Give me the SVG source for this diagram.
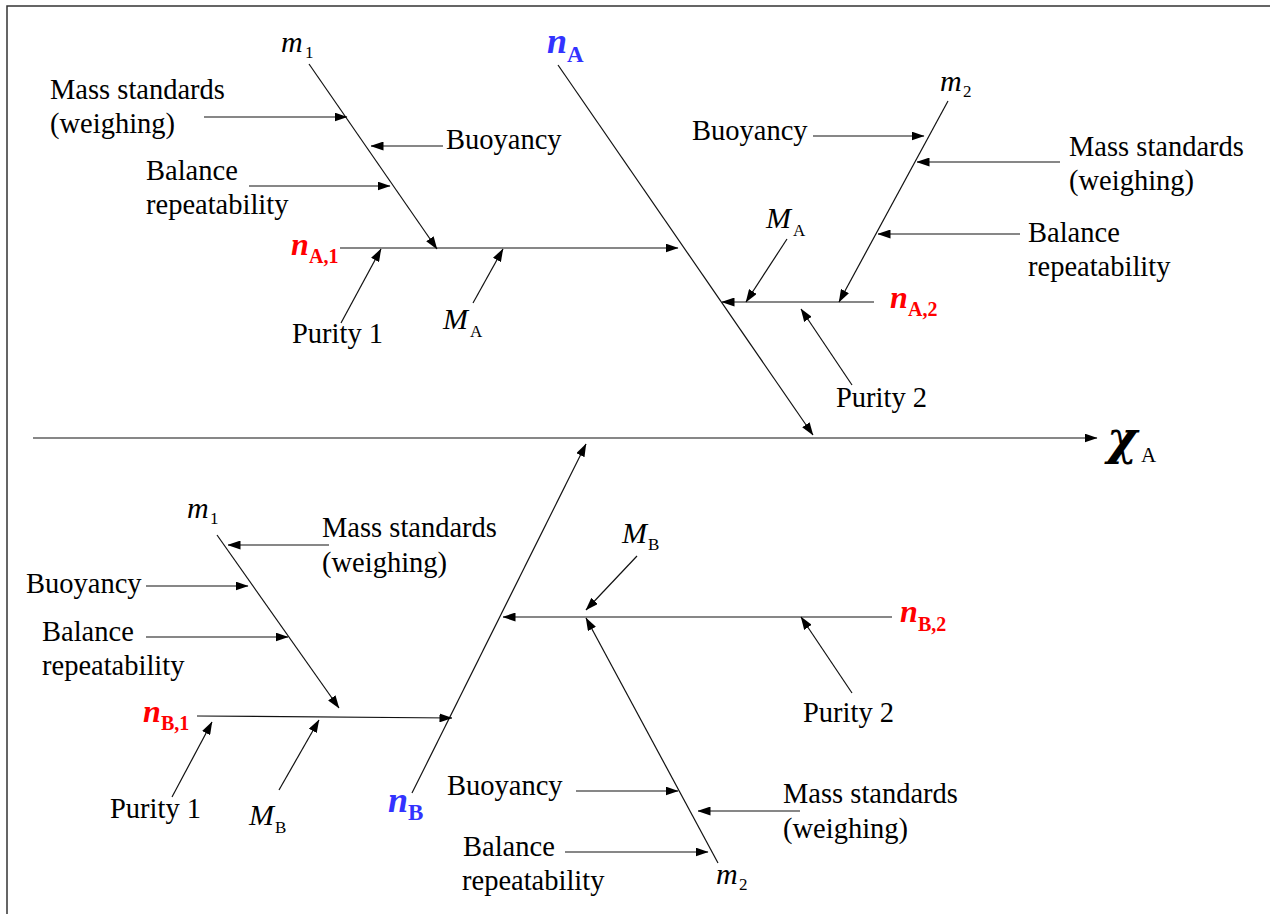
<svg xmlns="http://www.w3.org/2000/svg" width="1270" height="914" viewBox="0 0 1270 914">
<style>
text{font-family:"Liberation Serif","Times New Roman",serif;fill:#000}
.lb{font-size:28.5px}
.it{font-style:italic;font-size:30px}
.sub{font-style:normal;font-size:17px}
.nr{font-style:italic;font-weight:bold;font-size:32px;fill:#f00}
.nb{font-style:italic;font-weight:bold;font-size:36px;fill:#33f}
.sr{font-style:normal;font-weight:bold;font-size:20px;fill:#f00}
.sb{font-style:normal;font-weight:bold;font-size:23px;fill:#33f}
.c line{stroke:#111;stroke-width:1.2;fill:none}
.a{marker-end:url(#ah)}
</style>
<defs>
<marker id="ah" markerWidth="13" markerHeight="9" refX="12.5" refY="4.5" orient="auto" markerUnits="userSpaceOnUse">
<path d="M0,0 L13,4.5 L0,9 z" fill="#000"/>
</marker>
</defs>
<rect width="1270" height="914" fill="#fff"/>
<path d="M7,914 V6 H1270" fill="none" stroke="#333" stroke-width="1.5"/>

<g id="connectors" class="c">
<line class="a" x1="33" y1="438" x2="1097" y2="438"/>
<line class="a" x1="558" y1="65" x2="813" y2="435"/>
<line class="a" x1="309" y1="64" x2="437" y2="249"/>
<line class="a" x1="204" y1="117" x2="347" y2="117"/>
<line class="a" x1="443" y1="146" x2="371" y2="146"/>
<line class="a" x1="249" y1="186" x2="390" y2="186"/>
<line class="a" x1="340" y1="248" x2="678" y2="248"/>
<line class="a" x1="341" y1="323" x2="381" y2="249"/>
<line class="a" x1="473" y1="303" x2="503" y2="249"/>
<line class="a" x1="948" y1="101" x2="839" y2="302"/>
<line class="a" x1="813" y1="136" x2="924" y2="136"/>
<line class="a" x1="1060" y1="162" x2="917" y2="162"/>
<line class="a" x1="1020" y1="234" x2="878" y2="234"/>
<line class="a" x1="874" y1="302" x2="722" y2="302"/>
<line class="a" x1="787" y1="239" x2="746" y2="302"/>
<line class="a" x1="852" y1="385" x2="801" y2="309"/>
<line class="a" x1="412" y1="793" x2="586" y2="444"/>
<line class="a" x1="217" y1="535" x2="339" y2="708"/>
<line class="a" x1="329" y1="545" x2="228" y2="545"/>
<line class="a" x1="146" y1="586" x2="248" y2="586"/>
<line class="a" x1="146" y1="637" x2="288" y2="637"/>
<line class="a" x1="197" y1="716" x2="452" y2="718"/>
<line class="a" x1="172" y1="797" x2="212" y2="722"/>
<line class="a" x1="279" y1="790" x2="319" y2="720"/>
<line class="a" x1="892" y1="617" x2="503" y2="617"/>
<line class="a" x1="637" y1="556" x2="586" y2="610"/>
<line class="a" x1="852" y1="693" x2="801" y2="617"/>
<line class="a" x1="718" y1="863" x2="586" y2="618"/>
<line class="a" x1="576" y1="791" x2="678" y2="791"/>
<line class="a" x1="800" y1="811" x2="698" y2="811"/>
<line class="a" x1="565" y1="852" x2="708" y2="852"/>
</g>

<g id="xA"><text x="1107" y="454" style="font-family:'DejaVu Serif',serif;font-style:italic;font-weight:bold;font-size:46px">χ</text><text x="1141" y="462" style="font-size:21px">A</text></g>

<g id="nA"><text x="547" y="53" class="nb">n</text><text x="567" y="62" class="sb">A</text></g>
<g id="nA1"><text x="291" y="255" class="nr">n</text><text x="309" y="263" class="sr">A,1</text></g>
<g id="nA2"><text x="890" y="308" class="nr">n</text><text x="908" y="316" class="sr">A,2</text></g>
<g id="nB"><text x="388" y="812" class="nb">n</text><text x="408" y="820" class="sb">B</text></g>
<g id="nB1"><text x="143" y="722" class="nr">n</text><text x="161" y="730" class="sr">B,1</text></g>
<g id="nB2"><text x="900" y="622" class="nr">n</text><text x="918" y="631" class="sr">B,2</text></g>

<g id="m1A"><text x="281" y="52" class="it">m</text><text x="305" y="58" class="sub">1</text></g>
<g id="massA1"><text x="50" y="99" class="lb">Mass standards</text><text x="50" y="133" class="lb">(weighing)</text></g>
<g id="buoyA1"><text x="446" y="149" class="lb">Buoyancy</text></g>
<g id="balA1"><text x="146" y="180" class="lb">Balance</text><text x="146" y="214" class="lb">repeatability</text></g>
<g id="purA1"><text x="292" y="343" class="lb">Purity 1</text></g>
<g id="MA1"><text x="443" y="329" class="it">M</text><text x="470" y="337" class="sub">A</text></g>

<g id="m2A"><text x="940" y="91" class="it">m</text><text x="963" y="97" class="sub">2</text></g>
<g id="buoyA2"><text x="692" y="140" class="lb">Buoyancy</text></g>
<g id="massA2"><text x="1069" y="156" class="lb">Mass standards</text><text x="1069" y="190" class="lb">(weighing)</text></g>
<g id="MA2"><text x="766" y="228" class="it">M</text><text x="793" y="236" class="sub">A</text></g>
<g id="balA2"><text x="1028" y="242" class="lb">Balance</text><text x="1028" y="276" class="lb">repeatability</text></g>
<g id="purA2"><text x="836" y="407" class="lb">Purity 2</text></g>

<g id="m1B"><text x="187" y="518" class="it">m</text><text x="210" y="524" class="sub">1</text></g>
<g id="massB1"><text x="322" y="537" class="lb">Mass standards</text><text x="322" y="572" class="lb">(weighing)</text></g>
<g id="buoyB1"><text x="26" y="593" class="lb">Buoyancy</text></g>
<g id="balB1"><text x="42" y="641" class="lb">Balance</text><text x="42" y="675" class="lb">repeatability</text></g>
<g id="purB1"><text x="110" y="818" class="lb">Purity 1</text></g>
<g id="MB1"><text x="249" y="825" class="it">M</text><text x="275" y="833" class="sub">B</text></g>

<g id="MB2"><text x="622" y="543" class="it">M</text><text x="648" y="550" class="sub">B</text></g>
<g id="purB2"><text x="803" y="722" class="lb">Purity 2</text></g>
<g id="buoyB2"><text x="447" y="795" class="lb">Buoyancy</text></g>
<g id="massB2"><text x="783" y="803" class="lb">Mass standards</text><text x="783" y="838" class="lb">(weighing)</text></g>
<g id="balB2"><text x="463" y="856" class="lb">Balance</text><text x="462" y="890" class="lb">repeatability</text></g>
<g id="m2B"><text x="716" y="884" class="it">m</text><text x="739" y="890" class="sub">2</text></g>
</svg>
